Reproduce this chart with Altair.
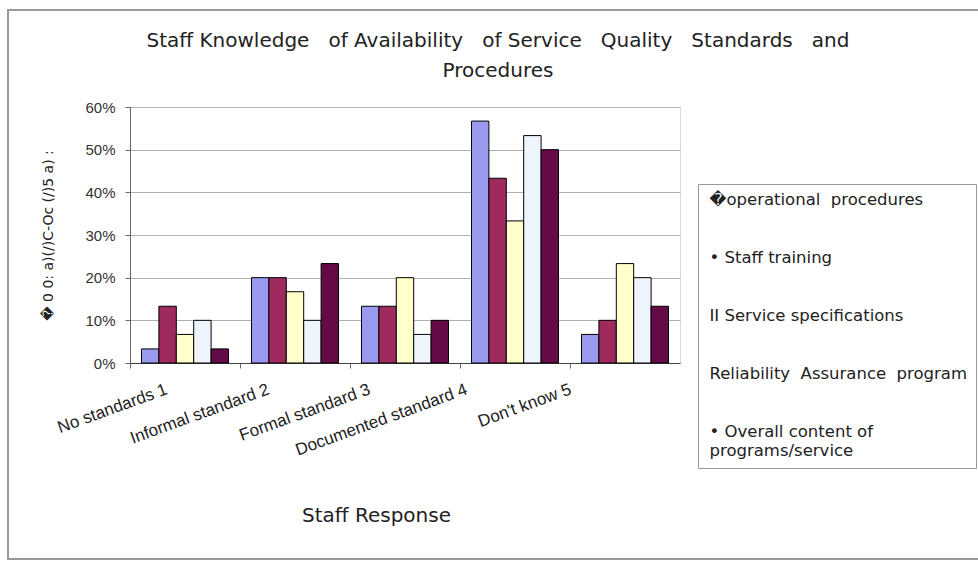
import json
import altair as alt
import pandas as pd

NB = "\u00a0"
categories = ["No standards 1", "Informal standard  2", "Formal standard  3",
              "Documented standard 4", "Don't know 5"]
series = ["operational procedures", "Staff training", "Service specifications",
          "Reliability Assurance program", "Overall content of programs/service"]
legend_labels = ["\ufffdoperational" + NB * 2 + "procedures",
                 "\u2022 Staff" + NB + "training",
                 "II Service" + NB + "specifications",
                 NB + "Reliability" + NB * 2 + "Assurance" + NB * 2 + "program",
                 ["\u2022 Overall" + NB + "content" + NB + "of",
                  NB * 3 + "programs/service"]]
colors = ["#9999ee", "#9e2a5e", "#ffffcc", "#eef4fb", "#640a46"]

# percent values per series, in category order
v_operational = [3.3, 20.0, 13.3, 56.7, 6.7]
v_training = [13.3, 20.0, 13.3, 43.3, 10.0]
v_specs = [6.7, 16.7, 20.0, 33.3, 23.3]
v_reliability = [10.0, 10.0, 6.7, 53.3, 20.0]
v_overall = [3.3, 23.3, 10.0, 50.0, 13.3]
values = [v_operational, v_training, v_specs, v_reliability, v_overall]

rows = []
for s, vals in zip(series, values):
    for c, v in zip(categories, vals):
        rows.append({"category": c, "series": s, "value": v / 100.0})
df = pd.DataFrame(rows)

label_map = json.dumps(dict(zip(series, legend_labels)), ensure_ascii=False)

label_offsets = [-21, -29, -38, -51, -57]
offset_cond = [{"test": f"datum.value === {json.dumps(c)}", "value": o}
               for c, o in zip(categories, label_offsets)]

W = NB * 3
title_line1 = ("Staff" + NB + "Knowledge" + W + "of" + NB + "Availability" + W + "of"
               + NB + "Service" + W + "Quality" + W + "Standards" + W + "and")

bars = alt.Chart(df).mark_bar(stroke="#000000", strokeWidth=1).encode(
    x=alt.X("category:N", sort=categories,
            scale=alt.Scale(paddingInner=0, paddingOuter=0),
            axis=alt.Axis(
                title="Staff Response", titleFont="DejaVu Sans", titleFontSize=20,
                titleFontWeight="normal", titleColor="#222222",
                titleX=246, titleY=152, titleBaseline="middle",
                labelAngle=-20, labelAlign="right", labelBaseline="top",
                labelFont="Liberation Sans", labelFontSize=17, labelColor="#222222",
                labelPadding=13, labelOffset={"condition": offset_cond, "value": 0},
                bandPosition=0, tickSize=5, tickColor="#666666",
                domainColor="#444444", labelLimit=400)),
    xOffset=alt.XOffset("series:N", sort=series,
                        scale=alt.Scale(paddingInner=0, paddingOuter=0.66)),
    y=alt.Y("value:Q", scale=alt.Scale(domain=[0, 0.6]),
            axis=alt.Axis(
                format=".0%", values=[0, 0.1, 0.2, 0.3, 0.4, 0.5, 0.6],
                title="\ufffd  0  0: a)(/)C-Oc (/)5 a) :",
                titleFont="DejaVu Sans", titleFontSize=14, titleFontWeight="normal",
                titleColor="#222222", titleAngle=-90, titleX=-82, titleY=128,
                titleAlign="center", titleBaseline="middle",
                labelFont="Liberation Sans", labelFontSize=15, labelColor="#333333",
                labelPadding=10, tickSize=5, tickColor="#666666",
                domainColor="#666666", gridColor="#b0b0b0")),
    color=alt.Color("series:N", sort=series,
                    scale=alt.Scale(domain=series, range=colors),
                    legend=alt.Legend(
                        title=None, orient="none", legendX=568, legendY=77,
                        padding=8, strokeColor="#999999", fillColor="#ffffff",
                        symbolSize=0, symbolOpacity=0, symbolStrokeWidth=0,
                        labelOffset={"expr": "-13"}, labelFont="DejaVu Sans",
                        labelFontSize=16.5,
                        labelColor="#222222", labelLimit=400, rowPadding=41,
                        labelExpr=f"{label_map}[datum.label]")),
)

frame = alt.Chart(alt.Data(values=[{}])).mark_rect(
    fill="transparent", stroke="#999999", strokeWidth=2).encode(
    x=alt.value(-122), x2=alt.value(860), y=alt.value(-97), y2=alt.value(452))

chart = alt.layer(frame, bars).properties(
    width=550, height=256,
    autosize=alt.AutoSizeParams(type="none"),
    padding={"left": 130, "top": 107, "right": 298, "bottom": 200},
    title=alt.TitleParams(
        text=[title_line1, "Procedures"],
        font="DejaVu Sans", fontSize=20, fontWeight="normal", color="#222222",
        anchor="middle", frame="group", dx=93, offset=-72, lineHeight=30),
).configure_view(stroke="#a0a0a0").configure(background="#ffffff")

chart.save("out.html", embed_options={"renderer": "svg", "actions": False})
